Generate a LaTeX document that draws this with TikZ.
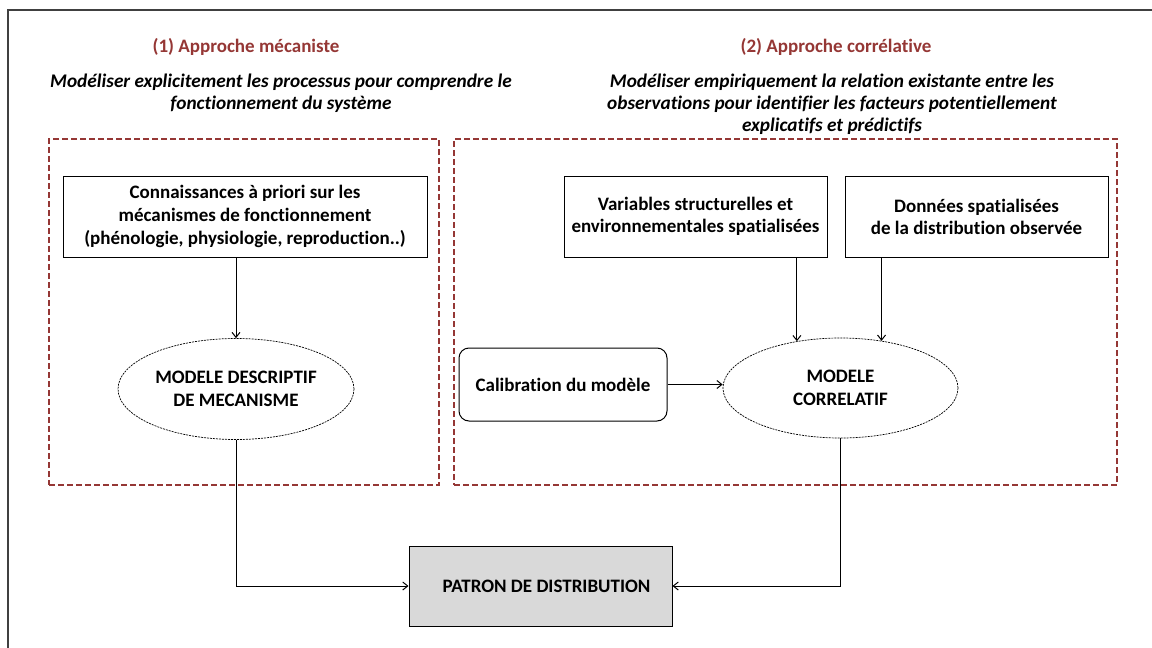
\documentclass[tikz,border=0pt]{standalone}
\usepackage{fontspec}
\setmainfont{Carlito}[Ligatures={NoCommon}]
\usetikzlibrary{arrows.meta,shapes.geometric}
\definecolor{darkred}{HTML}{953735}
\definecolor{boxgray}{HTML}{D9D9D9}
\begin{document}
\begin{tikzpicture}[x=1pt,y=-1pt,
  title/.style={font=\fontsize{19}{22}\selectfont\bfseries, text=darkred},
  subtitle/.style={font=\fontsize{19.3}{22}\selectfont\bfseries\itshape, align=center},
  group/.style={draw=darkred, line width=1.8pt, dash pattern=on 6pt off 3pt, inner sep=0pt},
  stepbox/.style={draw, line width=1pt, align=center, inner sep=0pt, font=\fontsize{19}{23}\selectfont\bfseries},
  condbox/.style={stepbox, font=\fontsize{19}{22}\selectfont\bfseries},
  model/.style={ellipse, draw, dash pattern=on 2pt off 1pt, line width=0.7pt, align=center, inner sep=0pt, font=\fontsize{19}{23}\selectfont\bfseries},
  arr/.style={line width=1pt, -{Straight Barb[length=5pt,width=8pt]}}
]
\useasboundingbox (0,0) rectangle (1152,648);
\draw[line width=1.2pt, black!75] (8,648) -- (8,10) -- (1152,10);

\node[title] (t1) at (246,47) {(1) Approche mécaniste};
\node[title] (t2) at (836,47) {(2) Approche corrélative};
\node[subtitle] (s1) at (281,93) {Modéliser explicitement les processus pour comprendre le\\fonctionnement du système};
\node[subtitle] (s2) at (832,104.5) {Modéliser empiriquement la relation existante entre les\\observations pour identifier les facteurs potentiellement\\explicatifs et prédictifs};

\node[group, minimum width=390pt, minimum height=346pt] (g1) at (244,312) {};
\node[group, minimum width=663pt, minimum height=346pt] (g2) at (785.5,312) {};

\node[stepbox, minimum width=364pt, minimum height=81pt] (k) at (245,216.5) {Connaissances à priori sur les\\mécanismes de fonctionnement\\(phénologie, physiologie, reproduction..)};
\node[model, minimum width=236pt, minimum height=101pt] (m1) at (236,389) {MODELE DESCRIPTIF\\DE MECANISME};

\node[condbox, minimum width=263pt, minimum height=81pt] (v) at (695.5,216.5) {Variables structurelles et\\environnementales spatialisées};
\node[condbox, minimum width=263pt, minimum height=81pt] (d) at (976.5,216.5) {Données spatialisées\\de la distribution observée};
\node[stepbox, rounded corners=10pt, minimum width=208pt, minimum height=73pt] (c) at (563,384.5) {Calibration du modèle};
\node[model, minimum width=235pt, minimum height=100pt] (m2) at (840.5,388) {MODELE\\CORRELATIF};

\node[stepbox, fill=boxgray, minimum width=263pt, minimum height=80pt] (p) at (540.5,586) {\hspace{12pt}PATRON DE DISTRIBUTION};

\draw[arr] (m1.north |- k.south) -- (m1.north);
\draw[arr] (m2.133.9 |- v.south) -- (m2.133.9);
\draw[arr] (m2.49.2 |- d.south) -- (m2.49.2);
\draw[arr] (c.east) -- (c.east -| m2.west);
\draw[arr] (m1.south) |- (p.west);
\draw[arr] (m2.south) |- (p.east);
\end{tikzpicture}
\end{document}
